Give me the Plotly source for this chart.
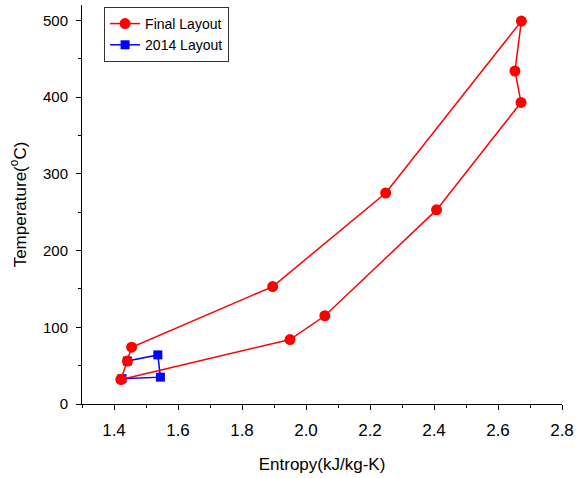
import plotly.graph_objects as go

final_s = [1.422, 1.442, 1.455, 1.896, 2.249, 2.673, 2.653, 2.672, 2.408, 2.059, 1.950, 1.422]
final_t = [32, 56, 74, 153, 275, 499, 434, 393, 253, 115, 84, 32]

layout2014_s = [1.442, 1.537, 1.545, 1.425]
layout2014_t = [56, 64, 35, 33]

x_ticks = [1.4, 1.6, 1.8, 2.0, 2.2, 2.4, 2.6, 2.8]
y_ticks = [0, 100, 200, 300, 400, 500]

FONT = "Arial, Liberation Sans, sans-serif"

fig = go.Figure()
fig.add_trace(go.Scatter(
    x=layout2014_s, y=layout2014_t, mode="lines+markers", name="2014 Layout",
    line=dict(color="#0000ff", width=1.5),
    marker=dict(symbol="square", size=9, color="#0000ff"),
))
fig.add_trace(go.Scatter(
    x=final_s, y=final_t, mode="lines+markers", name="Final Layout",
    line=dict(color="#ff0000", width=1.5),
    marker=dict(symbol="circle", size=11, color="#ff0000"),
))

fig.update_layout(
    width=577, height=478,
    margin=dict(l=82, r=15, t=5, b=74, autoexpand=False),
    plot_bgcolor="white", paper_bgcolor="white",
    font=dict(family=FONT, size=16, color="black"),
    legend=dict(
        x=0.046, y=0.995, xanchor="left", yanchor="top",
        bordercolor="#333333", borderwidth=1, bgcolor="white",
        font=dict(size=14), traceorder="reversed",
        itemwidth=30, tracegroupgap=0,
    ),
    xaxis=dict(
        range=[1.3, 2.8], tickvals=x_ticks, ticktext=[f"{v:.1f}" for v in x_ticks],
        showline=True, linecolor="black", linewidth=1,
        ticks="outside", ticklen=5, tickcolor="black",
        showgrid=False, zeroline=False, automargin=False,
        minor=dict(ticks="outside", ticklen=3, dtick=0.1, tick0=1.3, tickcolor="black", showgrid=False),
        title=dict(text="Entropy(kJ/kg-K)", font=dict(size=17), standoff=18),
        tickfont=dict(size=17), ticklabelstandoff=6,
    ),
    yaxis=dict(
        range=[0, 520], tickvals=y_ticks,
        showline=True, linecolor="black", linewidth=1,
        ticks="outside", ticklen=5, tickcolor="black",
        showgrid=False, zeroline=False, automargin=False,
        minor=dict(ticks="outside", ticklen=3, dtick=50, tick0=0, tickcolor="black", showgrid=False),
        title=dict(text="Temperature(<sup>o</sup>C)", font=dict(size=17), standoff=12),
        tickfont=dict(size=15), ticklabelstandoff=5,
    ),
    showlegend=True,
)

fig.write_html("out.html", config={"displayModeBar": False},
               post_script="document.body.style.margin='0';document.body.style.overflow='hidden';")
